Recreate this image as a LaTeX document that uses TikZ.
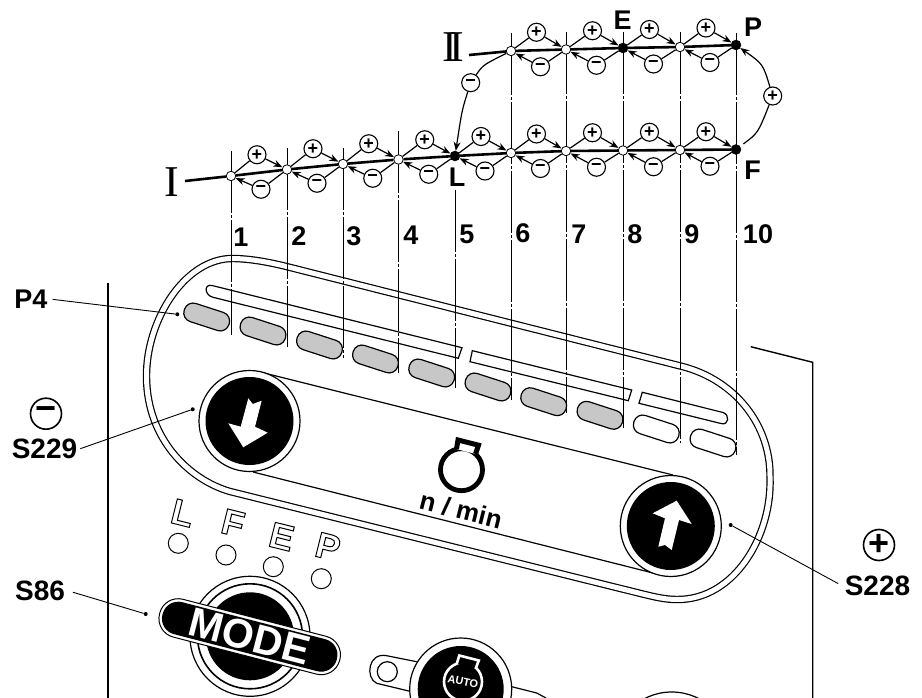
\documentclass[tikz,border=0pt]{standalone}
\usepackage{fontspec}
\setmainfont{Liberation Sans}
\newfontfamily\serifroman{Liberation Serif}
\usetikzlibrary{arrows.meta,calc}
\newcommand{\boldsize}[1]{\fontsize{#1}{#1}\selectfont\bfseries}
\newcommand{\outlined}[1]{\special{pdf:code 1 Tr 1 w}#1\special{pdf:code 0 Tr}}
\tikzset{
    track/.style={line width=2.6pt},
    hop/.style={line width=1.2pt},
    hoparrow/.style={line width=1.2pt, -{Stealth[length=9pt,width=7pt]}},
    opendot/.style={circle, draw, line width=0.8pt, fill=white, minimum size=9.5pt, inner sep=0pt},
    fulldot/.style={circle, draw, fill=black, minimum size=10pt, inner sep=0pt},
    sign/.style={circle, draw, line width=1.1pt, fill=white, minimum size=18pt, inner sep=0pt, font=\boldsize{18}},
    bigsign/.style={circle, draw, line width=1.6pt, minimum size=31pt, inner sep=0pt, font=\boldsize{36}},
    tick/.style={line width=0.8pt, dash pattern=on 62pt off 2pt on 3pt off 2pt},
    lbl/.style={inner sep=0pt, font=\boldsize{27}},
    tag/.style={inner sep=2pt, font=\boldsize{28}},
    leader/.style={line width=0.9pt},
    leaderdot/.style={circle, fill=black, minimum size=4pt, inner sep=0pt},
    ledlit/.style={draw, line width=1.2pt, fill=black!22, rounded corners=9pt, rotate=-18, minimum width=47pt, minimum height=19pt},
    ledoff/.style={ledlit, fill=white},
    outline/.style={line width=1.2pt},
    btnrim/.style={circle, draw, line width=1.2pt, fill=white, minimum size=101pt, inner sep=0pt},
    btncore/.style={circle, fill=black, minimum size=88pt, inner sep=0pt},
    lamp/.style={circle, draw, line width=1pt, minimum size=20pt, inner sep=0pt},
    lampletter/.style={inner sep=0pt, rotate=-14, font=\boldsize{36}}
}
\begin{document}
\begin{tikzpicture}[x=1pt, y=-1pt]
    \clip (0,0) rectangle (922,698);

    % Panel band
    \draw[line width=1.2pt, double, double distance=5pt] (286,266.4) -- (682,366.4)
        .. controls (735,380) and (771,425) .. (770,478)
        .. controls (772,535) and (735,600) .. (677,599.5)
        .. controls (665,599.5) and (655,597) .. (641,593.6) -- (230,491.5)
        .. controls (190,480) and (147,440) .. (146.5,377)
        .. controls (146,320) and (185,258) .. (233,258.5)
        .. controls (250,258.7) and (268,262) .. cycle;

    % Panel edges
    \draw[line width=1.4pt] (108,282.7) -- (108,698);
    \draw[line width=1.4pt] (750.7,346.7) -- (812.7,362.3) -- (812.7,698);

    % Button channel
    \draw[outline] (260,372) -- (673,475);
    \draw[outline] (253,472) -- (653,573);

    % Long bars
    \draw[outline] (212,285.5) -- (462,347.7) -- (458.3,358.3) -- (213,297.3) .. controls (204,295) and (204,283.5) .. (212,285.5);
    \draw[outline] (472.3,350.7) -- (631.7,390) -- (628.3,400.7) -- (470,361.7) -- cycle;
    \draw[outline] (642.3,392.3) -- (723,412.5) .. controls (730,414.5) and (729,426) .. (721,423.5) -- (639,403.3) -- cycle;

    % Indicator fields
    \foreach \name/\px/\py/\sty in {led1/206.7/317/ledlit, led2/263/331/ledlit, led3/319.5/345/ledlit,
        led4/375.5/359/ledlit, led5/431.7/373/ledlit, led6/488/387/ledlit, led7/543.7/401.7/ledlit,
        led8/600/415.3/ledlit, led9/656.3/429/ledoff, led10/713/443/ledoff}
        \node[\sty] (\name) at (\px,\py) {};

    % Division lines
    \foreach \px/\ya/\yb in {231/151/335, 287/148/347, 343/148/358, 398.5/131/373, 455/190/388,
        511/33/400, 566/32/413, 623/32/428, 680/32/443, 736/33/455}
        \draw[tick] (\px,\ya) -- (\px,\yb);

    % Lower and upper speed points
    \foreach \name/\px/\py/\sty in {n1/231/176/opendot, n2/287/169.5/opendot, n3/343/164/opendot,
        n4/398.5/159.5/opendot, n5/455/156/fulldot, n6/511/153/opendot, n7/566/151/opendot,
        n8/623/150.5/opendot, n9/680/150/opendot, n10/736/149.5/fulldot,
        u6/511/51/opendot, u7/566/49.5/opendot, u8/623/48/fulldot, u9/680/47/opendot, u10/736/45/fulldot}
        \node[\sty] (\name) at (\px,\py) {};

    % Curve labels
    \node[inner sep=0pt, font=\serifroman\fontsize{44}{44}\selectfont] (curveI) at (172,182) {I};
    \node[inner sep=0pt, font=\serifroman\fontsize{44}{44}\selectfont] (curveII) at (453.5,47.5) {I\kern-7.5pt I};
    \coordinate (startI) at (185,181);
    \coordinate (startII) at (469,55);

    % Curves
    \draw[track] (startI) -- (n1) -- (n2) -- (n3) -- (n4) -- (n5) -- (n6) -- (n7) -- (n8) -- (n9) -- (n10);
    \draw[track] (startII) -- (u6) -- (u7) -- (u8) -- (u9) -- (u10);

    % Plus and minus steps
    \foreach \a/\b in {n1/n2, n2/n3, n3/n4, n4/n5, n5/n6, n6/n7, n7/n8, n8/n9, n9/n10, u6/u7, u7/u8, u8/u9, u9/u10}{
        \node[sign] (plus\a) at ($(\a)!0.5!(\b)+(-2,-18)$) {+};
        \node[sign] (minus\a) at ($(\a)!0.5!(\b)+(2,16.5)$) {−};
        \draw[hop] (\a) -- (plus\a);
        \draw[hoparrow] (plus\a) -- (\b);
        \draw[hop] (\b) -- (minus\a);
        \draw[hoparrow] (minus\a) -- (\a);
    }

    % Changes between the curves
    \node[sign] (minusII) at (470.7,82.7) {−};
    \node[sign] (plusFP) at (772.7,96) {+};
    \draw[hop] (u6) .. controls (483,65) .. (minusII);
    \draw[hoparrow] (minusII) .. controls (462,110) .. (n5);
    \draw[hop, shorten <=4pt] (n10) .. controls (758,133) .. (plusFP);
    \draw[hoparrow] (plusFP) .. controls (763,64) .. (u10);

    % Point letters
    \node[lbl] (letterL) at (457,177) {L};
    \node[lbl] (letterE) at (622.7,20) {E};
    \node[lbl] (letterP) at (753,27) {P};
    \node[lbl] (letterF) at (752.7,170) {F};

    % Field numbers
    \foreach \num/\px/\py in {1/241/237, 2/299/236, 3/354/236, 4/411/235, 5/467/234, 6/523/233,
        7/579/234, 8/635/234, 9/692/234, 10/758/234}
        \node[lbl] (num\num) at (\px,\py) {\num};

    % Down button
    \node[btnrim] (btnDown) at (249.5,421) {};
    \node[btncore] (coreDown) at (btnDown) {};
    \fill[white] (248.3,398.3) -- (252.7,404) -- (261.7,400.7) -- (255,426.7) -- (267.7,432.7) -- (243.3,447.3) -- (228.3,423.3) -- (240.7,426.7) -- cycle;

    % Up button
    \node[btnrim] (btnUp) at (670.8,526) {};
    \node[btncore] (coreUp) at (btnUp) {};
    \fill[white] (676.7,500.7) -- (691.7,524) -- (679,520) -- (671.7,550) -- (665,545) -- (658.3,546.7) -- (665,518.3) -- (652.7,513.3) -- cycle;

    % Speed symbol
    \draw[line width=4.8pt] (461.5,469.7) circle (21);
    \draw[line width=5pt, fill=white] (456.5,449) -- (458,440) -- (478.5,445.2) -- (475.5,454);
    \node[inner sep=0pt, rotate=-14, font=\boldsize{26}] (speedLabel) at (461,510) {n / min};

    % Lamps
    \foreach \name/\txt/\lx/\ly/\cx/\cy in {lampL/L/182.7/513/178.3/543.3, lampF/F/233/523/226/555,
        lampE/E/281.7/536.7/273.3/566.7, lampP/P/328/546.7/321.3/578.7}{
        \node[lampletter] (letter\name) at (\lx,\ly) {\outlined{\txt}};
        \node[lamp] (\name) at (\cx,\cy) {};
    }

    % Mode button
    \node[circle, draw, line width=1.2pt, fill=white, minimum size=120pt, inner sep=0pt] (modeRim) at (250,636.3) {};
    \draw[line width=1.6pt] (modeRim.center) circle (52.5);
    \fill[black] (modeRim.center) circle (44);
    \node[draw, line width=1pt, fill=white, rounded corners=19pt, rotate=-14.5, minimum width=186pt, minimum height=39pt, inner sep=0pt] (modeBar) at (249.7,636.7) {};
    \node[fill=black, text=white, rounded corners=16pt, rotate=-14.5, minimum width=180pt, minimum height=33pt, inner sep=0pt, font=\boldsize{41}] (modeText) at (modeBar) {MODE};

    % Auto button
    \draw[outline] (416.7,661.7) -- (386.7,655.7) .. controls (368,652) and (365,678) .. (376.7,683.3) -- (411.7,691.7);
    \draw[outline] (387.3,671.7) circle (10);
    \draw[outline] (511.7,686.7) -- (536.7,693) -- (546,698);
    \node[circle, draw, line width=1.2pt, fill=white, minimum size=102pt, inner sep=0pt] (autoRim) at (460.7,689) {};
    \fill[black] (autoRim.center) circle (43);
    \draw[white, line width=2.6pt] (463,681.7) circle (19);
    \draw[white, line width=2.6pt, fill=black] (456.7,664) -- (459.3,655.5) -- (478.8,660.5) -- (475.5,669);
    \node[inner sep=0pt, text=white, rotate=-12, font=\boldsize{11}] (autoText) at (463,681.7) {AUTO};

    % Next button
    \draw[outline] (671.7,751) circle (59);

    % Callouts
    \node[tag, font=\boldsize{27}] (tagP4) at (31,299) {P4};
    \node[tag] (tagS229) at (44.5,449) {S229};
    \node[tag] (tagS228) at (877.5,586) {S228};
    \node[tag] (tagS86) at (40,590.5) {S86};
    \node[bigsign] (minusS229) at (46,413.7) {−};
    \node[bigsign] (plusS228) at (879,545) {+};
    \node[leaderdot] (dotP4) at (177.3,314.3) {};
    \node[leaderdot] (dotS229) at (192.7,409.3) {};
    \node[leaderdot] (dotS228) at (730.7,525) {};
    \node[leaderdot] (dotS86) at (145.7,614) {};
    \draw[leader, shorten <=3pt] (tagP4.east) -- (dotP4);
    \draw[leader, shorten <=1pt] (tagS229.east) -- (dotS229);
    \draw[leader, shorten <=5pt] (tagS228.west) -- (dotS228);
    \draw[leader, shorten <=6pt] (tagS86.east) -- (dotS86);
\end{tikzpicture}
\end{document}
